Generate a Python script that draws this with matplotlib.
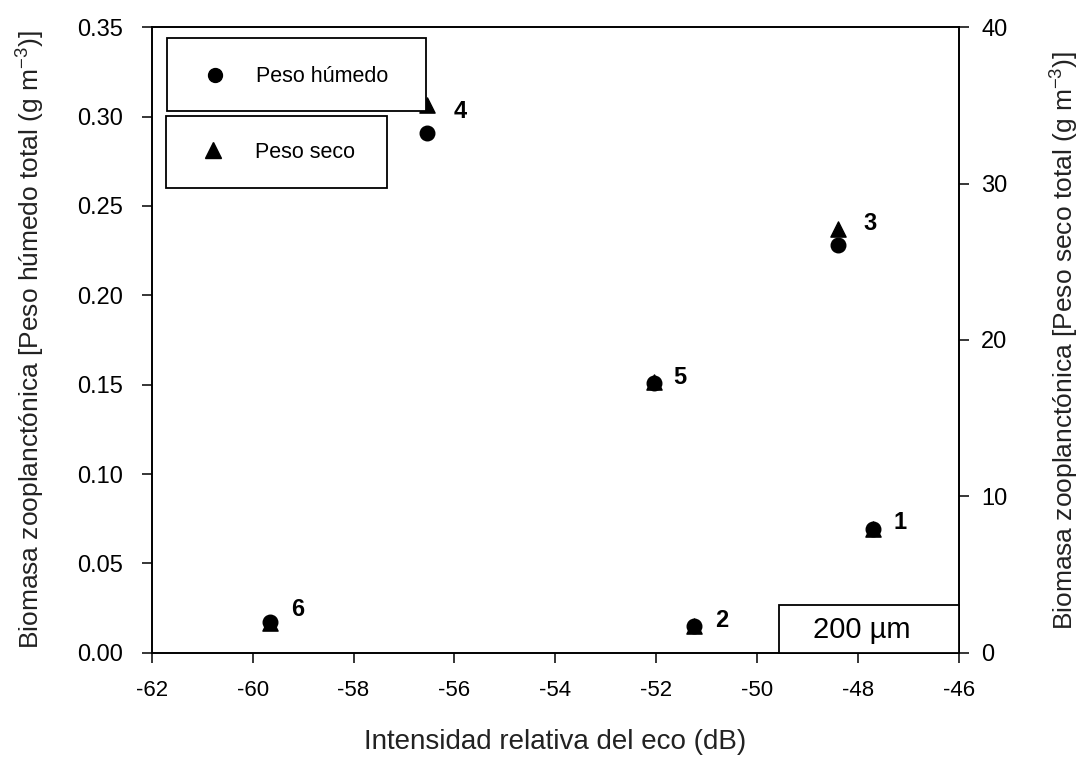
import matplotlib
matplotlib.use("Agg")
import matplotlib.pyplot as plt
from matplotlib.patches import Rectangle

# -----------------------------
# Data
# -----------------------------
station = ["1", "2", "3", "4", "5", "6"]
intensity_db = [-47.70, -51.25, -48.40, -56.55, -52.05, -59.65]
wet_weight = [0.069, 0.015, 0.228, 0.291, 0.151, 0.017]   # left axis
dry_weight = [7.9, 1.7, 27.1, 35.0, 17.3, 1.9]             # right axis

x_ticks = [-62, -60, -58, -56, -54, -52, -50, -48, -46]
left_ticks = [0.00, 0.05, 0.10, 0.15, 0.20, 0.25, 0.30, 0.35]
right_ticks = [0, 10, 20, 30, 40]

# label offsets (pixels) for the station numbers
label_offsets = [(27, 7), (28, 5), (32, 22), (34, 21), (26, 5), (27, 13)]

plt.rcParams["font.family"] = ["Liberation Sans", "DejaVu Sans"]
plt.rcParams["mathtext.fontset"] = "custom"
plt.rcParams["mathtext.rm"] = "Liberation Sans"
plt.rcParams["mathtext.it"] = "Liberation Sans:italic"

W, H = 1084, 764
fig = plt.figure(figsize=(W / 100, H / 100), dpi=100)

# axes box in pixels (left, top, right, bottom)
L, T, R, B = 151.7, 27.3, 959.0, 652.7
ax = fig.add_axes([L / W, 1 - B / H, (R - L) / W, (B - T) / H])
ax2 = ax.twinx()

# -----------------------------
# Points
# -----------------------------
ax.scatter(intensity_db, wet_weight, marker="o", s=110, color="black", zorder=3)
ax2.scatter(intensity_db, dry_weight, marker="^", s=120, color="black", zorder=3)

for st, x, y, off in zip(station, intensity_db, wet_weight, label_offsets):
    ax.annotate(st, (x, y), xytext=off, textcoords="offset pixels",
                ha="center", va="center", fontsize=17, fontweight="bold")

# -----------------------------
# Axes
# -----------------------------
ax.set_xlim(-62, -46)
ax.set_ylim(0, 0.35)
ax2.set_ylim(0, 40)
ax.set_xticks(x_ticks)
ax.set_xticklabels([str(t) for t in x_ticks], fontsize=16,
                   family=["Liberation Sans Narrow", "Liberation Sans"])
ax.set_yticks(left_ticks)
ax.set_yticklabels([f"{t:.2f}" for t in left_ticks], fontsize=17)
ax2.set_yticks(right_ticks)
ax2.set_yticklabels([str(t) for t in right_ticks], fontsize=17)

for a in (ax, ax2):
    a.tick_params(direction="out", length=7, width=1.1, colors="black")
    for sp in a.spines.values():
        sp.set_linewidth(1.2)
ax.tick_params(axis="x", pad=13)
ax.tick_params(axis="y", pad=14)
ax2.tick_params(axis="y", pad=9)

ax.set_xlabel("Intensidad relativa del eco (dB)", fontsize=20, labelpad=20, color="#222222")
ax.set_ylabel("Biomasa zooplanctónica [Peso húmedo total (g m$^{-3}$)]",
              fontsize=19, labelpad=21, color="#222222")
ax2.set_ylabel("Biomasa zooplanctónica [Peso seco total (g m$^{-3}$)]",
               fontsize=19, labelpad=30, rotation=90, color="#222222")


# -----------------------------
# Legend boxes and size label (pixel placement, drawn over the points)
# -----------------------------
def px(x, y):
    # figure pixel (from top-left) -> axes fraction
    return (x - L) / (R - L), (B - y) / (B - T)


def box(x0, y0, x1, y1):
    ax0, ay1 = px(x0, y1)
    ax1, ay0 = px(x1, y0)
    ax2.add_patch(Rectangle((ax0, ay1), ax1 - ax0, ay0 - ay1, transform=ax2.transAxes,
                            facecolor="white", edgecolor="black", linewidth=1.3,
                            zorder=10, clip_on=False))


box(167, 38, 426, 111)
ax2.plot(*px(215, 75), marker="o", markersize=10, color="black", linestyle="none",
         transform=ax2.transAxes, zorder=11)
ax2.text(*px(256, 76), "Peso húmedo", fontsize=15.5, va="center", ha="left",
         transform=ax2.transAxes, zorder=11)

box(166, 116, 387, 188)
ax2.plot(*px(213, 150), marker="^", markersize=11, color="black", linestyle="none",
         transform=ax2.transAxes, zorder=11)
ax2.text(*px(255, 152), "Peso seco", fontsize=15.5, va="center", ha="left",
         transform=ax2.transAxes, zorder=11)

box(779, 605, R, B)
ax2.text(*px(862, 630), "200 µm", fontsize=21, va="center", ha="center",
         transform=ax2.transAxes, zorder=11)

fig.savefig("out.png", dpi=100)
